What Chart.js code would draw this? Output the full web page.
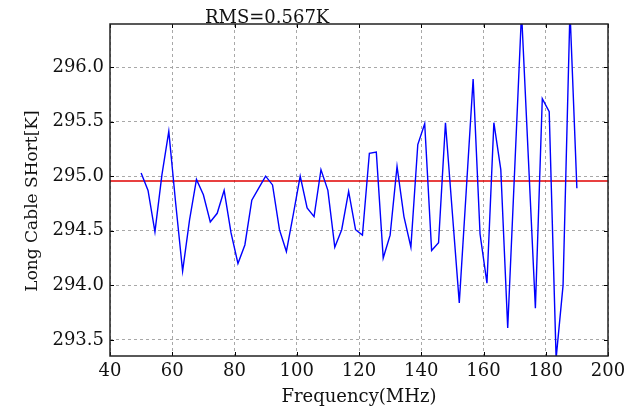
<!DOCTYPE html>
<html><head><meta charset="utf-8">
<script src="https://cdn.jsdelivr.net/npm/chart.js@4/dist/chart.umd.min.js"></script>
<style>html,body{margin:0;padding:0;background:#fff}#wrap{width:637px;height:411px;position:relative}</style>
</head><body><div id="wrap"><canvas id="c"></canvas></div>
<script>
// Frequency channels (MHz)
const frequencies = [50.00, 52.22, 54.44, 56.67, 58.89, 61.11, 63.33, 65.56, 67.78, 70.00,
  72.22, 74.44, 76.67, 78.89, 81.11, 83.33, 85.56, 87.78, 90.00, 92.22,
  94.44, 96.67, 98.89, 101.11, 103.33, 105.56, 107.78, 110.00, 112.22, 114.44,
  116.67, 118.89, 121.11, 123.33, 125.56, 127.78, 130.00, 132.22, 134.44, 136.67,
  138.89, 141.11, 143.33, 145.56, 147.78, 150.00, 152.22, 154.44, 156.67, 158.89,
  161.11, 163.33, 165.56, 167.78, 170.00, 172.22, 174.44, 176.67, 178.89, 181.11,
  183.33, 185.56, 187.78, 190.00];
// Long cable short temperature (K)
const temperatures = [295.03, 294.87, 294.49, 295.01, 295.41, 294.75, 294.13, 294.60, 294.97, 294.83,
  294.58, 294.66, 294.87, 294.48, 294.20, 294.37, 294.78, 294.89, 295.00, 294.92,
  294.51, 294.31, 294.65, 295.00, 294.71, 294.63, 295.06, 294.87, 294.35, 294.51,
  294.86, 294.51, 294.46, 295.21, 295.22, 294.25, 294.46, 295.09, 294.63, 294.35,
  295.29, 295.48, 294.32, 294.39, 295.49, 294.66, 293.84, 294.86, 295.89, 294.47,
  294.02, 295.49, 295.06, 293.61, 295.05, 296.50, 295.15, 293.79, 295.71, 295.59,
  293.33, 294.00, 296.52, 294.89];
const referenceLevel = 294.956;
const rmsLabel = 'RMS=0.567K';
const xTitle = 'Frequency(MHz)';
const yTitle = 'Long Cable SHort[K]';
const xTicks = [40, 60, 80, 100, 120, 140, 160, 180, 200];
const yTicks = [293.5, 294.0, 294.5, 295.0, 295.5, 296.0];
const xLimits = [40, 200];
const yLimits = [293.353, 296.394];

const FONT = 'DejaVu Serif';
const seriesPoints = frequencies.map((f, i) => ({x: f, y: temperatures[i]}));
const refPoints = xLimits.map(v => ({x: v, y: referenceLevel}));

const framePlugin = {
  id: 'frame',
  afterDatasetsDraw(chart) {
    const {ctx, chartArea: a, scales: {x, y}} = chart;
    ctx.save();
    ctx.strokeStyle = '#000';
    ctx.lineWidth = 1;
    ctx.beginPath();
    xTicks.forEach(v => {
      const px = Math.round(x.getPixelForValue(v)) + 0.5;
      ctx.moveTo(px, a.bottom); ctx.lineTo(px, a.bottom - 4);
      ctx.moveTo(px, a.top); ctx.lineTo(px, a.top + 4);
    });
    yTicks.forEach(v => {
      const py = Math.round(y.getPixelForValue(v)) + 0.5;
      ctx.moveTo(a.left, py); ctx.lineTo(a.left + 4, py);
      ctx.moveTo(a.right, py); ctx.lineTo(a.right - 4, py);
    });
    ctx.stroke();
    ctx.strokeStyle = '#222';
    ctx.lineWidth = 1.5;
    ctx.strokeRect(a.left, a.top, a.right - a.left, a.bottom - a.top);
    ctx.fillStyle = '#111';
    ctx.font = '18px "' + FONT + '"';
    ctx.textAlign = 'left';
    ctx.textBaseline = 'alphabetic';
    ctx.fillText(rmsLabel, x.getPixelForValue(70.5), a.top - 1);
    // y-axis title
    ctx.translate(33, (a.top + a.bottom) / 2 + 11);
    ctx.rotate(-Math.PI / 2);
    ctx.font = '17px "' + FONT + '"';
    ctx.textAlign = 'center';
    ctx.textBaseline = 'middle';
    ctx.fillText(yTitle, 0, 0);
    ctx.restore();
  }
};

new Chart(document.getElementById('c'), {
  type: 'line',
  data: {
    datasets: [
      {data: seriesPoints, borderColor: '#0000ff', borderWidth: 1.4, pointRadius: 0, tension: 0, fill: false},
      {data: refPoints, borderColor: '#e00000', borderWidth: 1.5, pointRadius: 0, tension: 0, fill: false}
    ]
  },
  options: {
    responsive: true,
    maintainAspectRatio: false,
    animation: false,
    events: [],
    layout: {padding: {left: 0, right: 29, top: 24, bottom: 0}},
    plugins: {legend: {display: false}, tooltip: {enabled: false}, title: {display: false}},
    scales: {
      x: {
        type: 'linear', min: xLimits[0], max: xLimits[1],
        afterFit(s) { s.height = 55; },
        afterBuildTicks(s) { s.ticks = xTicks.map(v => ({value: v})); },
        ticks: {color: '#111', font: {family: FONT, size: 18}, padding: 5, maxRotation: 0,
                callback: v => String(v)},
        grid: {color: '#a8a8a8', lineWidth: 1, drawTicks: false},
        border: {display: false, dash: [3, 3]},
        title: {display: true, text: xTitle, color: '#111', font: {family: FONT, size: 18}, padding: {top: 0, bottom: 3}}
      },
      y: {
        type: 'linear', min: yLimits[0], max: yLimits[1],
        afterFit(s) { s.width = 110; },
        afterBuildTicks(s) { s.ticks = yTicks.map(v => ({value: v})); },
        ticks: {color: '#111', font: {family: FONT, size: 18}, padding: 6,
                callback: v => Number(v).toFixed(1)},
        grid: {color: '#a8a8a8', lineWidth: 1, drawTicks: false},
        border: {display: false, dash: [3, 3]},
        title: {display: false}
      }
    }
  },
  plugins: [framePlugin]
});
</script>
</body></html>
